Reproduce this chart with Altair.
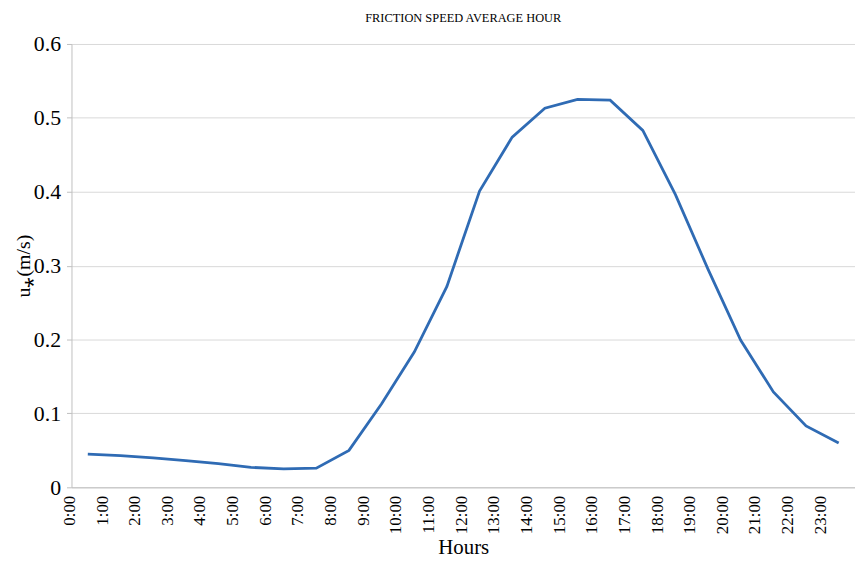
import altair as alt
import pandas as pd

hours = [f"{h}:00" for h in range(24)]
ustar = [0.045, 0.043, 0.040, 0.036, 0.032, 0.027, 0.025, 0.026, 0.050, 0.113,
         0.183, 0.272, 0.401, 0.474, 0.513, 0.525, 0.524, 0.483, 0.396, 0.295,
         0.199, 0.129, 0.083, 0.060]

df = pd.DataFrame({"hour": hours, "u": ustar})

FONT = "Liberation Serif, Times New Roman, serif"

chart = alt.Chart(df).mark_line(color="#2f6bb4", strokeWidth=2.8).encode(
    x=alt.X("hour:N", sort=hours,
            scale=alt.Scale(paddingInner=0, paddingOuter=0, type="band"),
            axis=alt.Axis(title="Hours", labelAngle=-90, labelOffset=-18,
                          labelPadding=8, ticks=False, domainColor="#bfbfbf",
                          labelFont=FONT, labelFontSize=17, labelColor="black",
                          titleFont=FONT, titleFontSize=21, titleFontWeight="normal",
                          titleColor="black", titlePadding=3, grid=False)),
    y=alt.Y("u:Q", scale=alt.Scale(domain=[0, 0.6]),
            axis=alt.Axis(title="u⁎(m/s)", values=[0, 0.1, 0.2, 0.3, 0.4, 0.5, 0.6],
                          format="~g", tickSize=5, tickColor="#bfbfbf",
                          domainColor="#bfbfbf", gridColor="#d9d9d9",
                          labelFont=FONT, labelFontSize=22, labelColor="black",
                          labelPadding=6,
                          titleFont=FONT, titleFontSize=20, titleFontWeight="normal",
                          titleColor="black", titlePadding=0)),
).properties(
    width=790, height=447,
    title=alt.TitleParams("FRICTION SPEED AVERAGE HOUR", font=FONT, fontSize=12.5,
                          fontWeight="normal", color="black", anchor="middle",
                          offset=9),
    padding={"left": 64, "top": 34, "right": 0, "bottom": 71},
    autosize=alt.AutoSizeParams(type="none"),
).configure(font=FONT).configure_view(stroke=None)

chart.save("out.html", embed_options={"renderer": "svg", "actions": False})
